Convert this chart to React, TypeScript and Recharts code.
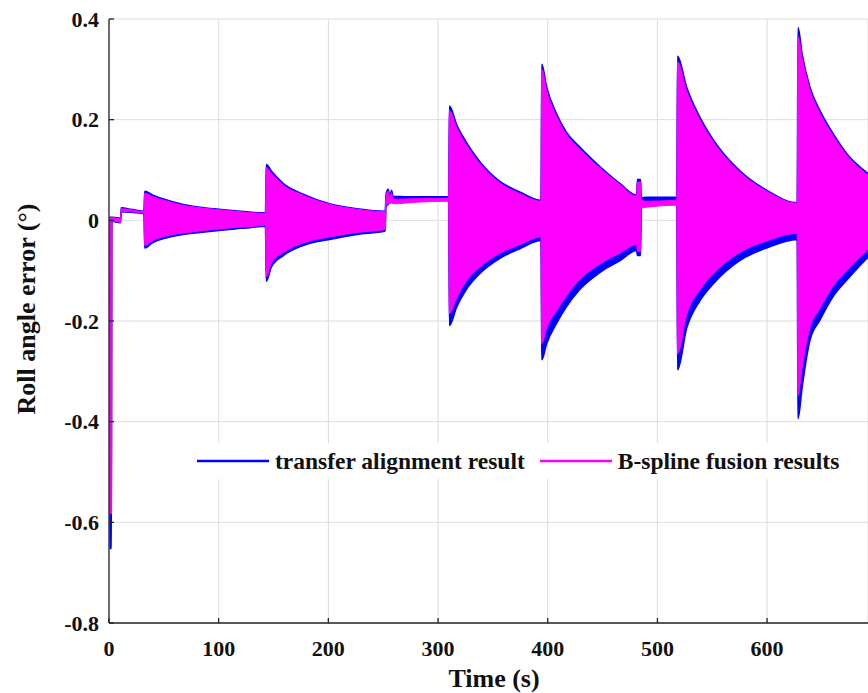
import React from 'react';
import { ComposedChart, Area, XAxis, YAxis, CartesianGrid, Legend } from 'recharts';

const timeS = [
  0.3, 0.8, 2.2, 2.7, 8, 10.5, 11.2, 20, 31.8,
  32.6, 40, 52, 65, 83, 100, 115, 130, 142.6,
  143.4, 148, 159, 177, 201, 226, 251.8,
  252.6, 254.6, 256, 257.6, 259, 280, 309.6,
  310.4, 317, 325, 338, 356, 375, 393.8,
  394.6, 399, 408, 417, 429, 448, 466, 481,
  481.8, 484.6, 485.4, 490, 517.6,
  518.4, 526.6, 538.7, 551, 575, 599.5, 627.4,
  628.2, 632, 639, 648, 660, 672.5, 692,
];

// transfer alignment result: lower / upper edge of the oscillation
const alignLow = [
  -0.002, -0.652, -0.652, -0.002, -0.004, -0.005, 0.017, 0.016, 0.013,
  -0.055, -0.044, -0.035, -0.029, -0.024, -0.02, -0.017, -0.014, -0.012,
  -0.121, -0.093, -0.07, -0.05, -0.038, -0.028, -0.021,
  0.028, 0.032, 0.036, 0.036, 0.04, 0.042, 0.043,
  -0.209, -0.172, -0.14, -0.106, -0.076, -0.056, -0.04,
  -0.277, -0.245, -0.205, -0.172, -0.138, -0.103, -0.08, -0.06,
  -0.07, -0.07, 0.03, 0.038, 0.04,
  -0.297, -0.215, -0.16, -0.126, -0.08, -0.055, -0.038,
  -0.394, -0.331, -0.239, -0.199, -0.152, -0.119, -0.073,
];
const alignHigh = [
  0.006, 0.006, 0.006, 0.006, 0.005, 0.004, 0.025, 0.022, 0.018,
  0.058, 0.05, 0.041, 0.033, 0.026, 0.022, 0.019, 0.016, 0.015,
  0.111, 0.098, 0.073, 0.052, 0.033, 0.023, 0.018,
  0.052, 0.062, 0.048, 0.06, 0.048, 0.047, 0.047,
  0.227, 0.19, 0.158, 0.117, 0.078, 0.056, 0.04,
  0.31, 0.265, 0.212, 0.175, 0.146, 0.106, 0.073, 0.05,
  0.081, 0.081, 0.045, 0.046, 0.046,
  0.326, 0.265, 0.205, 0.16, 0.099, 0.06, 0.035,
  0.383, 0.33, 0.265, 0.219, 0.173, 0.133, 0.093,
];

// B-spline fusion results: lower / upper edge
const splineLow = [
  -0.001, -0.583, -0.583, -0.001, -0.003, -0.004, 0.018, 0.017, 0.014,
  -0.05, -0.04, -0.031, -0.026, -0.021, -0.017, -0.014, -0.012, -0.01,
  -0.112, -0.086, -0.064, -0.045, -0.033, -0.024, -0.018,
  0.03, 0.033, 0.034, 0.034, 0.033, 0.036, 0.038,
  -0.185, -0.154, -0.123, -0.093, -0.066, -0.048, -0.033,
  -0.245, -0.214, -0.18, -0.15, -0.118, -0.086, -0.065, -0.048,
  -0.062, -0.062, 0.024, 0.026, 0.03,
  -0.265, -0.188, -0.138, -0.106, -0.064, -0.041, -0.026,
  -0.348, -0.292, -0.214, -0.176, -0.131, -0.1, -0.057,
];
const splineHigh = [
  0.005, 0.005, 0.005, 0.005, 0.004, 0.003, 0.023, 0.021, 0.017,
  0.054, 0.047, 0.039, 0.031, 0.025, 0.021, 0.018, 0.015, 0.014,
  0.105, 0.094, 0.07, 0.05, 0.032, 0.022, 0.017,
  0.048, 0.058, 0.044, 0.055, 0.042, 0.043, 0.044,
  0.218, 0.184, 0.153, 0.113, 0.075, 0.053, 0.038,
  0.3, 0.258, 0.207, 0.171, 0.142, 0.103, 0.071, 0.048,
  0.076, 0.076, 0.04, 0.038, 0.04,
  0.315, 0.258, 0.2, 0.156, 0.096, 0.058, 0.034,
  0.365, 0.322, 0.26, 0.214, 0.169, 0.13, 0.09,
];

const xTicks = [0, 100, 200, 300, 400, 500, 600];
const yTicks = [-0.8, -0.6, -0.4, -0.2, 0, 0.2, 0.4];
const seriesNames = ['transfer alignment result', 'B-spline fusion results'];

const FONT = '"Liberation Serif", "Times New Roman", serif';
const AXIS = '#262626';

const data = timeS.map((t, i) => ({
  t,
  align: [alignLow[i], alignHigh[i]],
  spline: [splineLow[i], splineHigh[i]],
}));

const textProps = { fill: '#111', fontWeight: 'bold', fontFamily: FONT };

// tick labels drawn by hand so the serif font sticks
const XTick = ({ x, y, payload }: any) => (
  <text x={x} y={y} dy="0.71em" textAnchor="middle" fontSize={22} {...textProps}>
    {String(payload.value)}
  </text>
);

const YTick = ({ x, y, payload }: any) => (
  <text x={x} y={y} dy="0.355em" textAnchor="end" fontSize={22} {...textProps}>
    {String(payload.value)}
  </text>
);

// keep the legend in series order (recharts sorts by name otherwise)
const LegendBox = ({ payload }: any) => {
  const items = [...(payload || [])].sort(
    (a: any, b: any) => seriesNames.indexOf(a.value) - seriesNames.indexOf(b.value)
  );
  return (
    <div
      style={{
        display: 'flex',
        alignItems: 'center',
        height: '100%',
        paddingLeft: 7,
        background: '#fff',
        fontFamily: FONT,
        fontWeight: 'bold',
        fontSize: 23.5,
        color: '#111',
        whiteSpace: 'nowrap',
      }}
    >
      {items.map((p: any, i: number) => (
        <div key={i} style={{ display: 'flex', alignItems: 'center', marginRight: 15 }}>
          <svg width={72} height={6}>
            <line x1={0} y1={3} x2={72} y2={3} stroke={p.color} strokeWidth={2.5} />
          </svg>
          <span style={{ marginLeft: 6 }}>{p.value}</span>
        </div>
      ))}
    </div>
  );
};

export default function App() {
  return (
    <div
      style={{
        position: 'absolute',
        left: 0,
        top: 0,
        width: 868,
        height: 693,
        overflow: 'hidden',
        background: '#fff',
        fontFamily: FONT,
      }}
    >
      <ComposedChart width={868} height={693} data={data} margin={{ top: 19, right: 0, bottom: 0, left: 0 }}>
        <CartesianGrid stroke="#dcdcdc" strokeWidth={1} />
        <XAxis
          dataKey="t"
          type="number"
          domain={[0, 692]}
          ticks={xTicks}
          allowDataOverflow
          height={70}
          stroke={AXIS}
          strokeWidth={1.3}
          tickSize={-5}
          tickMargin={22}
          tick={XTick}
          label={{
            content: () => (
              <text x={494} y={687} textAnchor="middle" fontSize={26} {...textProps}>
                Time (s)
              </text>
            ),
          }}
        />
        <XAxis
          xAxisId="top"
          orientation="top"
          dataKey="t"
          type="number"
          domain={[0, 692]}
          ticks={xTicks}
          allowDataOverflow
          height={0}
          stroke={AXIS}
          strokeWidth={1.3}
          tickSize={-5}
          tick={false}
        />
        <YAxis
          type="number"
          domain={[-0.8, 0.4]}
          ticks={yTicks}
          width={109}
          stroke={AXIS}
          strokeWidth={1.3}
          tickSize={-5}
          tickMargin={15}
          tick={YTick}
          label={{
            content: () => (
              <text x={35} y={309} transform="rotate(-90 35 309)" textAnchor="middle" fontSize={26} {...textProps}>
                Roll angle error (°)
              </text>
            ),
          }}
        />
        <Area
          type="monotone"
          dataKey="align"
          name={seriesNames[0]}
          stroke="#0000ff"
          strokeWidth={1.5}
          fill="#0000ff"
          fillOpacity={1}
          legendType="line"
          dot={false}
          activeDot={false}
          isAnimationActive={false}
        />
        <Area
          type="monotone"
          dataKey="spline"
          name={seriesNames[1]}
          stroke="#ff00ff"
          strokeWidth={1}
          fill="#ff00ff"
          fillOpacity={1}
          legendType="line"
          dot={false}
          activeDot={false}
          isAnimationActive={false}
        />
        <Legend
          layout="horizontal"
          verticalAlign="middle"
          align="center"
          content={LegendBox}
          wrapperStyle={{ left: 190, top: 443, width: 656, height: 36 }}
        />
      </ComposedChart>
    </div>
  );
}
